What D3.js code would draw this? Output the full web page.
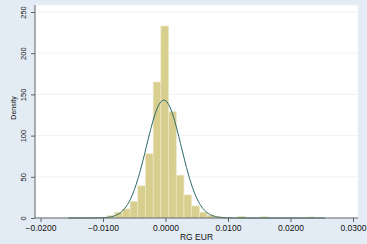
<!DOCTYPE html>
<html>
<head>
<meta charset="utf-8">
<script src="https://cdn.jsdelivr.net/npm/d3@7"></script>
<style>
  body { margin: 0; background: #e3ecf4; }
  svg { display: block; font-family: "Liberation Sans", Arial, sans-serif; }
</style>
</head>
<body>
<div id="chart"></div>
<script>
// histogram of RG EUR returns (density scale)
const binStart = -0.0155;
const binWidth = 0.00123;
const densities = [0.8, 0.5, 0.8, 0.8, 0.8, 3, 7, 11, 20, 39, 78, 165, 233, 129, 52, 28, 14.6, 7, 3.5, 1.6, 0.5, 0, 2, 0, 0, 1.5, 0, 0, 0, 0, 0, 1.2];
const xTicks = [-0.02, -0.01, 0, 0.01, 0.02, 0.03];
const yTicks = [0, 50, 100, 150, 200, 250];
// fitted normal
const normMean = -0.00027;
const normSd = 0.00279;
const curveRange = [-0.0155, 0.0255];

const width = 367, height = 244;
const plot = {left: 35, right: 358, top: 5, bottom: 218};

const svg = d3.select('#chart').append('svg')
    .attr('width', width)
    .attr('height', height);

const x = d3.scaleLinear().domain([-0.02, 0.03]).range([40.5, 353]);
const y = d3.scaleLinear().domain([0, 250]).range([218, 12]);

// plot region
svg.append('rect')
    .attr('x', plot.left).attr('y', plot.top)
    .attr('width', plot.right - plot.left)
    .attr('height', plot.bottom - plot.top)
    .attr('fill', '#ffffff')
    .attr('stroke', '#eef2f6');

// gridlines
svg.append('g').selectAll('line')
    .data(yTicks.filter(d => d > 0))
    .join('line')
    .attr('x1', plot.left).attr('x2', plot.right)
    .attr('y1', d => y(d)).attr('y2', d => y(d))
    .attr('stroke', '#eaf0f4')
    .attr('stroke-width', 0.8);

// bars
const bins = densities.map((v, i) => ({x0: binStart + i * binWidth, x1: binStart + (i + 1) * binWidth, v: v}));
svg.append('g').selectAll('rect')
    .data(bins.filter(d => d.v > 0))
    .join('rect')
    .attr('x', d => x(d.x0))
    .attr('width', d => x(d.x1) - x(d.x0))
    .attr('y', d => y(d.v))
    .attr('height', d => y(0) - y(d.v))
    .attr('fill', '#d8cf8e')
    .attr('stroke', '#ece7c4')
    .attr('stroke-width', 0.7);

// normal density curve
const pts = d3.range(0, 301).map(i => {
  const xv = curveRange[0] + (curveRange[1] - curveRange[0]) * i / 300;
  const z = (xv - normMean) / normSd;
  return [xv, Math.exp(-0.5 * z * z) / (normSd * Math.sqrt(2 * Math.PI))];
});
svg.append('path')
    .datum(pts)
    .attr('fill', 'none')
    .attr('stroke', '#2a6766')
    .attr('stroke-width', 1)
    .attr('d', d3.line().x(d => x(d[0])).y(d => y(d[1])));

// x axis
const xAxis = svg.append('g')
    .attr('transform', `translate(0,${plot.bottom})`)
    .call(d3.axisBottom(x).tickValues(xTicks).tickFormat(d3.format('.4f')).tickSize(4).tickSizeOuter(0));
xAxis.select('.domain').attr('d', `M${plot.left},0H${plot.right}`);
xAxis.selectAll('line, path').attr('stroke', '#5a6468');
xAxis.selectAll('text').attr('font-size', 8.5).attr('fill', '#111').attr('dy', '0.65em')
    .attr('font-family', '"Liberation Sans", Arial, sans-serif');

// y axis
const yAxis = svg.append('g')
    .attr('transform', `translate(${plot.left},0)`)
    .call(d3.axisLeft(y).tickValues(yTicks).tickSize(4).tickSizeOuter(0));
yAxis.select('.domain').attr('d', `M0,${plot.top}V${plot.bottom}`);
yAxis.selectAll('line, path').attr('stroke', '#5a6468');
yAxis.selectAll('text')
    .attr('font-size', 7.5).attr('fill', '#111')
    .attr('font-family', '"Liberation Sans", Arial, sans-serif')
    .attr('x', 0).attr('dy', 0)
    .attr('text-anchor', 'middle')
    .attr('transform', 'translate(-9,0) rotate(-90)');

// axis titles
svg.append('text')
    .attr('x', (plot.left + plot.right) / 2).attr('y', 240)
    .attr('text-anchor', 'middle')
    .attr('font-size', 8.5).attr('fill', '#111')
    .text('RG EUR');
svg.append('text')
    .attr('transform', 'translate(16,108) rotate(-90)')
    .attr('text-anchor', 'middle')
    .attr('font-size', 7).attr('fill', '#111')
    .text('Density');
</script>
</body>
</html>
